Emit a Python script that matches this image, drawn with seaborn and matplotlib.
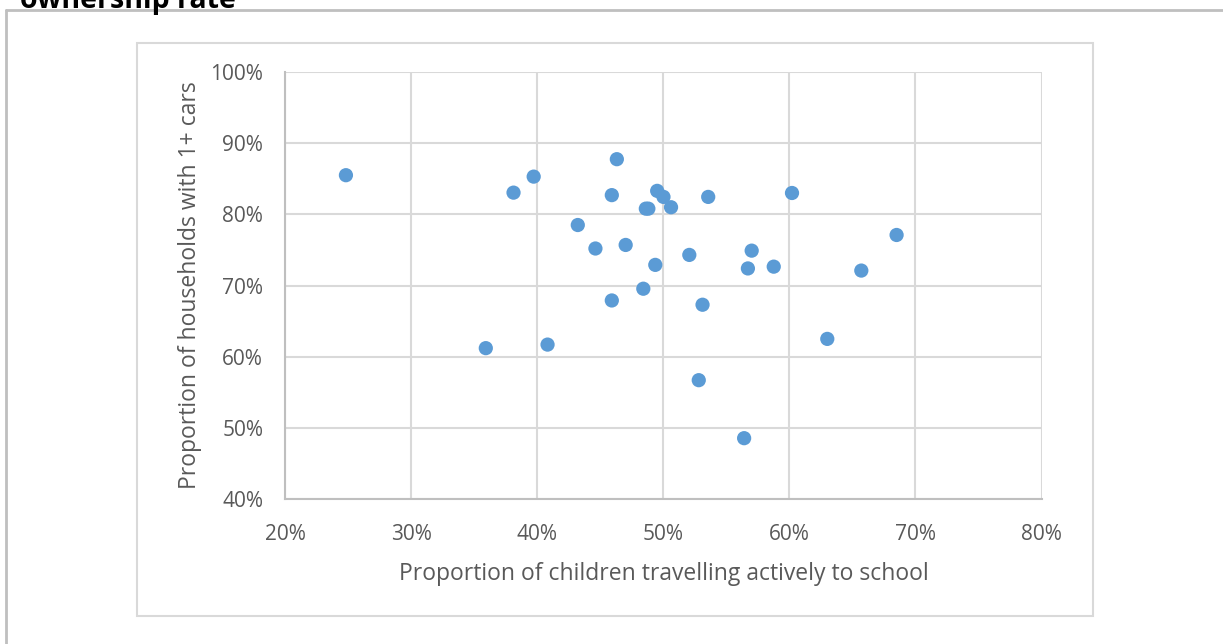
import matplotlib
matplotlib.use('Agg')
import matplotlib.pyplot as plt
from matplotlib.lines import Line2D
from matplotlib.patches import Rectangle
from matplotlib.ticker import PercentFormatter
import pandas as pd
import seaborn as sns

# proportion of children travelling actively to school (%)
active_travel = [24.8, 35.9, 38.1, 39.7, 40.8, 43.2, 44.6, 45.9, 45.9, 46.3,
                 47.0, 48.4, 48.6, 48.8, 49.35, 49.5, 50.0, 50.6, 52.05, 53.55,
                 60.2, 57.0, 56.7, 58.75, 65.7, 68.5, 53.1, 63.0, 52.8, 56.4]
# proportion of households with 1+ cars (%)
car_owners = [85.5, 61.2, 83.05, 85.3, 61.7, 78.5, 75.2, 82.7, 67.9, 87.75,
              75.7, 69.55, 80.8, 80.8, 72.9, 83.3, 82.45, 81.0, 74.3, 82.45,
              83.0, 74.9, 72.4, 72.65, 72.1, 77.1, 67.3, 62.5, 56.7, 48.55]

x_ticks = [20, 30, 40, 50, 60, 70, 80]
y_ticks = [40, 50, 60, 70, 80, 90, 100]

df = pd.DataFrame({'active': active_travel, 'cars': car_owners})

sns.set_style('white')
plt.rcParams['font.family'] = ['Open Sans', 'DejaVu Sans']

fig = plt.figure(figsize=(12.23, 6.44), dpi=100)
ax = fig.add_axes([0.2334, 0.2251, 0.6182, 0.6631])

sns.scatterplot(data=df, x='active', y='cars', ax=ax, color='#5B9BD5',
                s=105, edgecolor='none', zorder=3)

ax.set_xlim(20, 80)
ax.set_ylim(40, 100)
ax.set_xticks(x_ticks)
ax.set_yticks(y_ticks)
ax.xaxis.set_major_formatter(PercentFormatter(decimals=0))
ax.yaxis.set_major_formatter(PercentFormatter(decimals=0))
ax.grid(True, color='#d9d9d9', linewidth=1.5, zorder=0)
ax.set_axisbelow(True)
ax.tick_params(axis='both', length=0, labelsize=15, labelcolor='#595959')
ax.tick_params(axis='x', pad=18)
ax.tick_params(axis='y', pad=16)

for side in ['top', 'right']:
    ax.spines[side].set_visible(False)
for side in ['left', 'bottom']:
    ax.spines[side].set_color('#bfbfbf')
    ax.spines[side].set_linewidth(1.5)

ax.set_xlabel('Proportion of children travelling actively to school',
              fontsize=16.5, color='#595959', labelpad=12)
ax.set_ylabel('Proportion of households with 1+ cars',
              fontsize=16.5, color='#595959', labelpad=6)

# chart area box and outer border
W, H = 1223, 644
fig.add_artist(Rectangle((137 / W, 1 - 616 / H), (1093 - 137) / W, (616 - 43) / H,
                         transform=fig.transFigure, fill=False,
                         edgecolor='#d9d9d9', linewidth=1.5))
fig.add_artist(Line2D([6 / W, 6 / W], [0, 1 - 10 / H], transform=fig.transFigure,
                      color='#bfbfbf', linewidth=2))
fig.add_artist(Line2D([6 / W, 1], [1 - 10 / H, 1 - 10 / H], transform=fig.transFigure,
                      color='#bfbfbf', linewidth=2))

# title cut off at the top of the picture
fig.text(20 / W, 1 - 8 / H, 'ownership rate', fontsize=20.5, fontweight='bold',
         color='black', va='baseline', ha='left')

fig.savefig('out.png', dpi=100)
